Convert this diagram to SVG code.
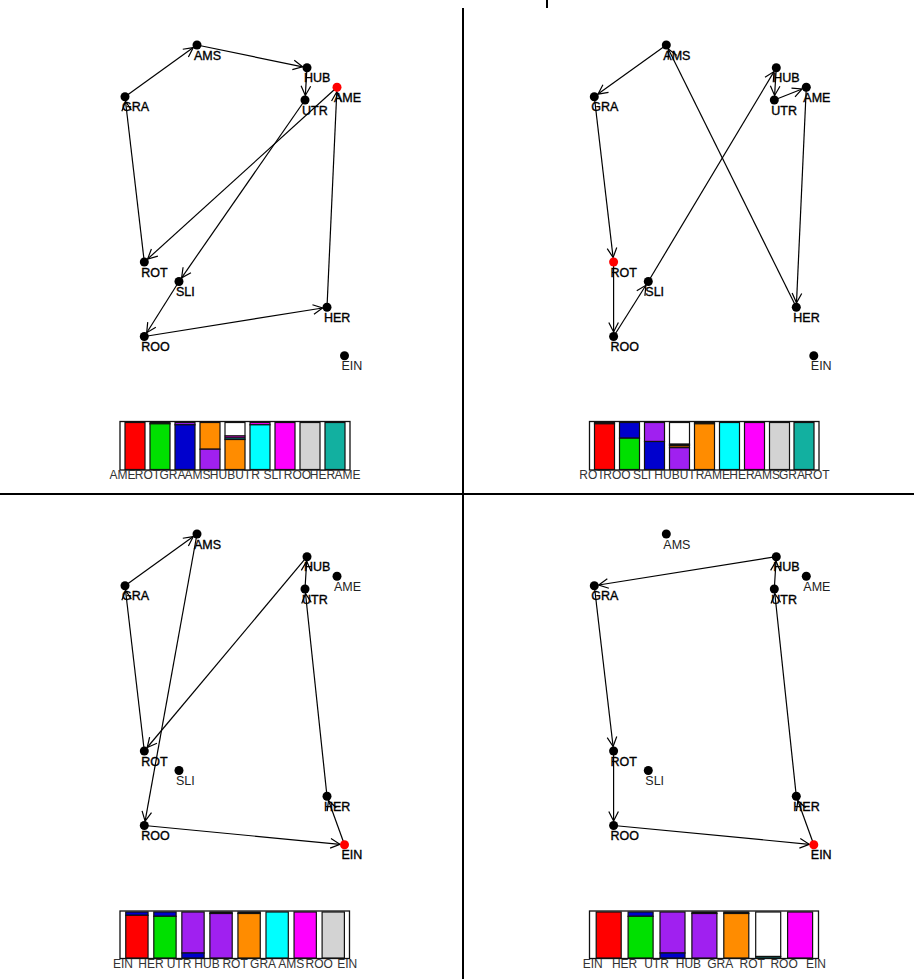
<svg xmlns="http://www.w3.org/2000/svg" width="914" height="979" viewBox="0 0 914 979">
<style>
.e{stroke:#000;stroke-width:1.2;fill:none;marker-end:url(#ah)}
.n{fill:#000}
.r{fill:#f00}
text{font-family:"Liberation Sans",Arial,sans-serif;font-size:12px}
.lb{fill:#000;stroke:#000;stroke-width:0.35;font-size:12.5px}
.lu{fill:#222;font-size:12.5px}
.bl{fill:#333;text-anchor:middle}
.bx{fill:#fff;stroke:#111;stroke-width:1.3}
.s{stroke:#111;stroke-width:1.2}
.div{stroke:#000;stroke-width:2}
</style>
<defs>
<marker id="ah" markerUnits="userSpaceOnUse" markerWidth="16" markerHeight="16" viewBox="-12 -8 16 16" refX="0" refY="0" orient="auto" overflow="visible">
<path d="M-9.5,-4.8 L0,0 L-9.5,4.8" fill="none" stroke="#000" stroke-width="1.2"/>
</marker>
</defs>
<rect x="0" y="0" width="914" height="979" fill="#fff"/>
<g id="dividers">
<line class="div" x1="0" y1="494" x2="914" y2="494"/>
<line class="div" x1="463" y1="8" x2="463" y2="979"/>
<line class="div" x1="547" y1="0" x2="547" y2="8"/>
</g>

<!-- Panel 1 -->
<g id="panel1">
<g id="p1-edges">
<line class="e" x1="337" y1="87.3" x2="147.6" y2="259"/>
<line class="e" x1="144.3" y1="262" x2="125.5" y2="101.2"/>
<line class="e" x1="125" y1="96.7" x2="193.3" y2="47.6"/>
<line class="e" x1="197" y1="45" x2="302.6" y2="66.8"/>
<line class="e" x1="307" y1="67.7" x2="305.3" y2="95.5"/>
<line class="e" x1="305" y1="100" x2="181.6" y2="277.8"/>
<line class="e" x1="179" y1="281.5" x2="146.7" y2="332.7"/>
<line class="e" x1="144.3" y1="336.5" x2="322.6" y2="308"/>
<line class="e" x1="327" y1="307.3" x2="336.8" y2="91.8"/>
</g>
<g id="p1-AMS"><circle class="n" cx="197" cy="45" r="4.5"/><text class="lb" x="194" y="59.5">AMS</text></g>
<g id="p1-HUB"><circle class="n" cx="307" cy="67.7" r="4.5"/><text class="lb" x="304" y="82">HUB</text></g>
<g id="p1-AME"><circle class="r" cx="337" cy="87.3" r="4.5"/><text class="lb" x="334" y="101.8">AME</text></g>
<g id="p1-GRA"><circle class="n" cx="125" cy="96.7" r="4.5"/><text class="lb" x="122" y="111.2">GRA</text></g>
<g id="p1-UTR"><circle class="n" cx="305" cy="100" r="4.5"/><text class="lb" x="302" y="114.5">UTR</text></g>
<g id="p1-ROT"><circle class="n" cx="144.3" cy="262" r="4.5"/><text class="lb" x="141.3" y="276.5">ROT</text></g>
<g id="p1-SLI"><circle class="n" cx="179" cy="281.5" r="4.5"/><text class="lb" x="176" y="296">SLI</text></g>
<g id="p1-HER"><circle class="n" cx="327" cy="307.3" r="4.5"/><text class="lb" x="324" y="321.8">HER</text></g>
<g id="p1-ROO"><circle class="n" cx="144.3" cy="336.5" r="4.5"/><text class="lb" x="141.3" y="351">ROO</text></g>
<g id="p1-EIN"><circle class="n" cx="344.5" cy="355.7" r="4.5"/><text class="lu" x="341.5" y="370.2">EIN</text></g>
<g id="p1-bars">
<rect class="bx" x="120" y="421.5" width="230" height="48.5"/>
<rect class="s" fill="#f00" x="125" y="422.5" width="20" height="47"/>
<rect class="s" fill="#a020f0" x="150" y="422.5" width="20" height="1.3"/>
<rect class="s" fill="#00e000" x="150" y="423.8" width="20" height="45.7"/>
<rect class="s" fill="#a020f0" x="175" y="422.5" width="20" height="2.3"/>
<rect class="s" fill="#0000cd" x="175" y="424.8" width="20" height="44.7"/>
<rect class="s" fill="#ff8c00" x="200" y="422.5" width="20" height="26.7"/>
<rect class="s" fill="#a020f0" x="200" y="449.2" width="20" height="20.3"/>
<rect class="s" fill="#fff" x="225" y="422.5" width="20" height="13.5"/>
<rect class="s" fill="#ff00ff" x="225" y="436" width="20" height="2"/>
<rect class="s" fill="#00ffff" x="225" y="438" width="20" height="1.5"/>
<rect class="s" fill="#ff8c00" x="225" y="439.5" width="20" height="30"/>
<rect class="s" fill="#ff00ff" x="250" y="422.5" width="20" height="2.3"/>
<rect class="s" fill="#00ffff" x="250" y="424.8" width="20" height="44.7"/>
<rect class="s" fill="#ff00ff" x="275" y="422.5" width="20" height="47"/>
<rect class="s" fill="#d3d3d3" x="300" y="422.5" width="20" height="47"/>
<rect class="s" fill="#12b0a0" x="325" y="422.5" width="20" height="47"/>
<text class="bl" x="122.5" y="478.5">AME</text>
<text class="bl" x="147.5" y="478.5">ROT</text>
<text class="bl" x="172.5" y="478.5">GRA</text>
<text class="bl" x="197.5" y="478.5">AMS</text>
<text class="bl" x="222.5" y="478.5">HUB</text>
<text class="bl" x="247.5" y="478.5">UTR</text>
<text class="bl" x="272.5" y="478.5">SLI</text>
<text class="bl" x="297.5" y="478.5">ROO</text>
<text class="bl" x="322.5" y="478.5">HER</text>
<text class="bl" x="347.5" y="478.5">AME</text>
</g>
</g>

<!-- Panel 2 -->
<g id="panel2">
<g transform="translate(469.3,0)">
<g id="p2-edges">
<line class="e" x1="144.3" y1="262" x2="144.3" y2="332"/>
<line class="e" x1="144.3" y1="336.5" x2="176.6" y2="285.3"/>
<line class="e" x1="179" y1="281.5" x2="304.7" y2="71.6"/>
<line class="e" x1="307" y1="67.7" x2="305.3" y2="95.5"/>
<line class="e" x1="305" y1="100" x2="332.8" y2="89"/>
<line class="e" x1="337" y1="87.3" x2="327.2" y2="302.8"/>
<line class="e" x1="327" y1="307.3" x2="199" y2="49"/>
<line class="e" x1="197" y1="45" x2="128.7" y2="94.1"/>
<line class="e" x1="125" y1="96.7" x2="143.8" y2="257.5"/>
</g>
<g id="p2-AMS"><circle class="n" cx="197" cy="45" r="4.5"/><text class="lb" x="194" y="59.5">AMS</text></g>
<g id="p2-HUB"><circle class="n" cx="307" cy="67.7" r="4.5"/><text class="lb" x="304" y="82">HUB</text></g>
<g id="p2-AME"><circle class="n" cx="337" cy="87.3" r="4.5"/><text class="lb" x="334" y="101.8">AME</text></g>
<g id="p2-GRA"><circle class="n" cx="125" cy="96.7" r="4.5"/><text class="lb" x="122" y="111.2">GRA</text></g>
<g id="p2-UTR"><circle class="n" cx="305" cy="100" r="4.5"/><text class="lb" x="302" y="114.5">UTR</text></g>
<g id="p2-ROT"><circle class="r" cx="144.3" cy="262" r="4.5"/><text class="lb" x="141.3" y="276.5">ROT</text></g>
<g id="p2-SLI"><circle class="n" cx="179" cy="281.5" r="4.5"/><text class="lb" x="176" y="296">SLI</text></g>
<g id="p2-HER"><circle class="n" cx="327" cy="307.3" r="4.5"/><text class="lb" x="324" y="321.8">HER</text></g>
<g id="p2-ROO"><circle class="n" cx="144.3" cy="336.5" r="4.5"/><text class="lb" x="141.3" y="351">ROO</text></g>
<g id="p2-EIN"><circle class="n" cx="344.5" cy="355.7" r="4.5"/><text class="lu" x="341.5" y="370.2">EIN</text></g>
</g>
<g id="p2-bars">
<rect class="bx" x="589.5" y="421.5" width="229.5" height="48.5"/>
<rect class="s" fill="#333" x="594.5" y="422.5" width="20" height="1.3"/>
<rect class="s" fill="#f00" x="594.5" y="423.8" width="20" height="45.7"/>
<rect class="s" fill="#0000cd" x="619.5" y="422.5" width="20" height="15.7"/>
<rect class="s" fill="#00e000" x="619.5" y="438.2" width="20" height="31.3"/>
<rect class="s" fill="#a020f0" x="644.5" y="422.5" width="20" height="19"/>
<rect class="s" fill="#0000cd" x="644.5" y="441.5" width="20" height="28"/>
<rect class="s" fill="#fff" x="669.5" y="422.5" width="20" height="21.7"/>
<rect class="s" fill="#000" x="669.5" y="444.2" width="20" height="1.2"/>
<rect class="s" fill="#8b4500" x="669.5" y="445.4" width="20" height="2.3"/>
<rect class="s" fill="#a020f0" x="669.5" y="447.7" width="20" height="21.8"/>
<rect class="s" fill="#0a6a60" x="694.5" y="422.5" width="20" height="1.3"/>
<rect class="s" fill="#ff8c00" x="694.5" y="423.8" width="20" height="45.7"/>
<rect class="s" fill="#00ffff" x="719.5" y="422.5" width="20" height="47"/>
<rect class="s" fill="#ff00ff" x="744.5" y="422.5" width="20" height="47"/>
<rect class="s" fill="#d3d3d3" x="769.5" y="422.5" width="20" height="47"/>
<rect class="s" fill="#12b0a0" x="794" y="422.5" width="20" height="47"/>
<text class="bl" x="592" y="478.5">ROT</text>
<text class="bl" x="617" y="478.5">ROO</text>
<text class="bl" x="642" y="478.5">SLI</text>
<text class="bl" x="667" y="478.5">HUB</text>
<text class="bl" x="692" y="478.5">UTR</text>
<text class="bl" x="717" y="478.5">AME</text>
<text class="bl" x="742" y="478.5">HER</text>
<text class="bl" x="767" y="478.5">AMS</text>
<text class="bl" x="792" y="478.5">GRA</text>
<text class="bl" x="817" y="478.5">ROT</text>
</g>
</g>

<!-- Panel 3 -->
<g id="panel3">
<g transform="translate(0,489)">
<g id="p3-edges">
<line class="e" x1="344.5" y1="355.7" x2="328.5" y2="311.5"/>
<line class="e" x1="327" y1="307.3" x2="305.5" y2="104.5"/>
<line class="e" x1="305" y1="100" x2="306.7" y2="72.2"/>
<line class="e" x1="307" y1="67.7" x2="147.2" y2="258.5"/>
<line class="e" x1="144.3" y1="262" x2="125.5" y2="101.2"/>
<line class="e" x1="125" y1="96.7" x2="193.3" y2="47.6"/>
<line class="e" x1="197" y1="45" x2="145.1" y2="332.1"/>
<line class="e" x1="144.3" y1="336.5" x2="340" y2="355.3"/>
</g>
<g id="p3-AMS"><circle class="n" cx="197" cy="45" r="4.5"/><text class="lb" x="194" y="59.5">AMS</text></g>
<g id="p3-HUB"><circle class="n" cx="307" cy="67.7" r="4.5"/><text class="lb" x="304" y="82">HUB</text></g>
<g id="p3-AME"><circle class="n" cx="337" cy="87.3" r="4.5"/><text class="lu" x="334" y="101.8">AME</text></g>
<g id="p3-GRA"><circle class="n" cx="125" cy="96.7" r="4.5"/><text class="lb" x="122" y="111.2">GRA</text></g>
<g id="p3-UTR"><circle class="n" cx="305" cy="100" r="4.5"/><text class="lb" x="302" y="114.5">UTR</text></g>
<g id="p3-ROT"><circle class="n" cx="144.3" cy="262" r="4.5"/><text class="lb" x="141.3" y="276.5">ROT</text></g>
<g id="p3-SLI"><circle class="n" cx="179" cy="281.5" r="4.5"/><text class="lu" x="176" y="296">SLI</text></g>
<g id="p3-HER"><circle class="n" cx="327" cy="307.3" r="4.5"/><text class="lb" x="324" y="321.8">HER</text></g>
<g id="p3-ROO"><circle class="n" cx="144.3" cy="336.5" r="4.5"/><text class="lb" x="141.3" y="351">ROO</text></g>
<g id="p3-EIN"><circle class="r" cx="344.5" cy="355.7" r="4.5"/><text class="lb" x="341.5" y="370.2">EIN</text></g>
</g>
<g id="p3-bars">
<rect class="bx" x="120" y="911" width="229.5" height="47.5"/>
<rect class="s" fill="#0000cd" x="125.75" y="912" width="22.3" height="3.3"/>
<rect class="s" fill="#f00" x="125.75" y="915.3" width="22.3" height="42.7"/>
<rect class="s" fill="#0000cd" x="153.8" y="912" width="22.3" height="4.3"/>
<rect class="s" fill="#00e000" x="153.8" y="916.3" width="22.3" height="41.7"/>
<rect class="s" fill="#a020f0" x="181.85" y="912" width="22.3" height="41"/>
<rect class="s" fill="#0000cd" x="181.85" y="953" width="22.3" height="5"/>
<rect class="s" fill="#111" x="209.9" y="912" width="22.3" height="1.5"/>
<rect class="s" fill="#a020f0" x="209.9" y="913.5" width="22.3" height="44.5"/>
<rect class="s" fill="#111" x="237.95" y="912" width="22.3" height="1.5"/>
<rect class="s" fill="#ff8c00" x="237.95" y="913.5" width="22.3" height="44.5"/>
<rect class="s" fill="#00ffff" x="266" y="912" width="22.3" height="46"/>
<rect class="s" fill="#ff00ff" x="294.05" y="912" width="22.3" height="46"/>
<rect class="s" fill="#d3d3d3" x="322.1" y="912" width="22.3" height="46"/>
<text class="bl" x="122.9" y="968">EIN</text>
<text class="bl" x="150.9" y="968">HER</text>
<text class="bl" x="179" y="968">UTR</text>
<text class="bl" x="207" y="968">HUB</text>
<text class="bl" x="235.1" y="968">ROT</text>
<text class="bl" x="263.1" y="968">GRA</text>
<text class="bl" x="291.2" y="968">AMS</text>
<text class="bl" x="319.2" y="968">ROO</text>
<text class="bl" x="347.3" y="968">EIN</text>
</g>
</g>

<!-- Panel 4 -->
<g id="panel4">
<g transform="translate(469.3,489)">
<g id="p4-edges">
<line class="e" x1="344.5" y1="355.7" x2="328.5" y2="311.5"/>
<line class="e" x1="327" y1="307.3" x2="305.5" y2="104.5"/>
<line class="e" x1="305" y1="100" x2="306.7" y2="72.2"/>
<line class="e" x1="307" y1="67.7" x2="129.4" y2="96"/>
<line class="e" x1="125" y1="96.7" x2="143.8" y2="257.5"/>
<line class="e" x1="144.3" y1="262" x2="144.3" y2="332"/>
<line class="e" x1="144.3" y1="336.5" x2="340" y2="355.3"/>
</g>
<g id="p4-AMS"><circle class="n" cx="197" cy="45" r="4.5"/><text class="lu" x="194" y="59.5">AMS</text></g>
<g id="p4-HUB"><circle class="n" cx="307" cy="67.7" r="4.5"/><text class="lb" x="304" y="82">HUB</text></g>
<g id="p4-AME"><circle class="n" cx="337" cy="87.3" r="4.5"/><text class="lu" x="334" y="101.8">AME</text></g>
<g id="p4-GRA"><circle class="n" cx="125" cy="96.7" r="4.5"/><text class="lb" x="122" y="111.2">GRA</text></g>
<g id="p4-UTR"><circle class="n" cx="305" cy="100" r="4.5"/><text class="lb" x="302" y="114.5">UTR</text></g>
<g id="p4-ROT"><circle class="n" cx="144.3" cy="262" r="4.5"/><text class="lb" x="141.3" y="276.5">ROT</text></g>
<g id="p4-SLI"><circle class="n" cx="179" cy="281.5" r="4.5"/><text class="lu" x="176" y="296">SLI</text></g>
<g id="p4-HER"><circle class="n" cx="327" cy="307.3" r="4.5"/><text class="lb" x="324" y="321.8">HER</text></g>
<g id="p4-ROO"><circle class="n" cx="144.3" cy="336.5" r="4.5"/><text class="lb" x="141.3" y="351">ROO</text></g>
<g id="p4-EIN"><circle class="r" cx="344.5" cy="355.7" r="4.5"/><text class="lb" x="341.5" y="370.2">EIN</text></g>
</g>
<g id="p4-bars">
<rect class="bx" x="589.5" y="911" width="229" height="47.5"/>
<rect class="s" fill="#f00" x="596.2" y="912" width="25" height="46"/>
<rect class="s" fill="#0000cd" x="628.1" y="912" width="25" height="4.3"/>
<rect class="s" fill="#00e000" x="628.1" y="916.3" width="25" height="41.7"/>
<rect class="s" fill="#a020f0" x="660" y="912" width="25" height="41"/>
<rect class="s" fill="#0000cd" x="660" y="953" width="25" height="5"/>
<rect class="s" fill="#111" x="691.9" y="912" width="25" height="1.5"/>
<rect class="s" fill="#a020f0" x="691.9" y="913.5" width="25" height="44.5"/>
<rect class="s" fill="#111" x="723.8" y="912" width="25" height="1.5"/>
<rect class="s" fill="#ff8c00" x="723.8" y="913.5" width="25" height="44.5"/>
<rect class="s" fill="#fff" x="755.7" y="912" width="25" height="44.5"/>
<rect class="s" fill="#12b0a0" x="755.7" y="956.5" width="25" height="1.5"/>
<rect class="s" fill="#ff00ff" x="787.6" y="912" width="25" height="46"/>
<text class="bl" x="592.7" y="968">EIN</text>
<text class="bl" x="624.6" y="968">HER</text>
<text class="bl" x="656.5" y="968">UTR</text>
<text class="bl" x="688.4" y="968">HUB</text>
<text class="bl" x="720.3" y="968">GRA</text>
<text class="bl" x="752.2" y="968">ROT</text>
<text class="bl" x="784.1" y="968">ROO</text>
<text class="bl" x="816" y="968">EIN</text>
</g>
</g>
</svg>
